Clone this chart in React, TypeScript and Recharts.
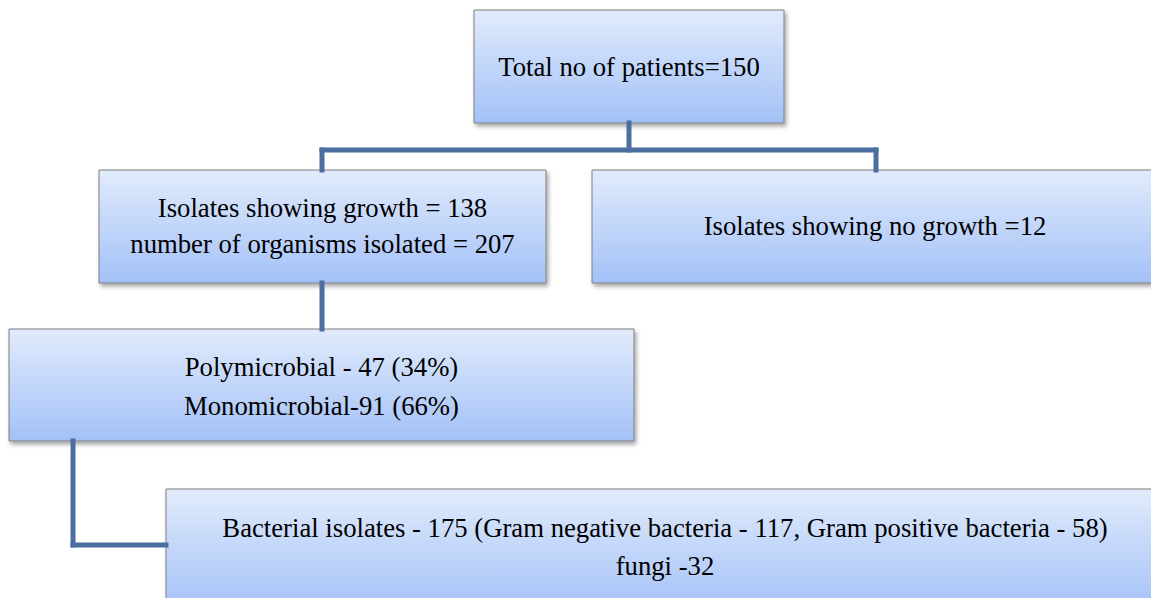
import React from 'react';
import { ComposedChart, XAxis, YAxis, ReferenceArea, ReferenceLine } from 'recharts';

const W = 1151;
const H = 598;

// Flowchart nodes (in a 0..1151 x 0..598 coordinate space)
const boxIds = ['total', 'growth', 'noGrowth', 'microbial', 'isolates'];
const boxX1 = [474, 99, 592, 9, 166];
const boxX2 = [784, 546, 1158, 634, 1164];
const boxY1 = [10, 170, 170, 329, 489];
const boxY2 = [123, 283, 283, 441, 612];
const boxLabels: string[][] = [
  ['Total no of patients=150'],
  ['Isolates showing growth = 138', 'number of organisms isolated = 207'],
  ['Isolates showing no growth =12'],
  ['Polymicrobial - 47 (34%)', 'Monomicrobial-91 (66%)'],
  ['Bacterial isolates - 175 (Gram negative bacteria - 117, Gram positive bacteria - 58)', 'fungi -32'],
];
// text baselines per line
const boxBaselines: number[][] = [[76], [217, 253], [234.5], [376, 415], [536.5, 574.5]];

// Connector segments
const segX1 = [629, 322, 322, 876, 322, 73, 73];
const segY1 = [123, 150, 150, 150, 283, 441, 545];
const segX2 = [629, 876, 322, 876, 322, 73, 166];
const segY2 = [150, 150, 170, 170, 329, 545, 545];

const LINE_COLOR = '#4A6FA0';
const FONT = "'Liberation Serif', 'Times New Roman', Times, serif";

const BoxLabel = (props: any) => {
  const { viewBox, lines, baselines } = props;
  if (!viewBox) return null;
  const cx = viewBox.x + viewBox.width / 2;
  return (
    <text x={cx} y={baselines[0]} textAnchor="middle" fontFamily={FONT} fontSize={26.7} fill="#000">
      {lines.map((l: string, i: number) => (
        <tspan key={i} x={cx} y={baselines[i]}>
          {l}
        </tspan>
      ))}
    </text>
  );
};

export default function App() {
  const data = [{ x: 0, y: 0 }];
  return (
    <div style={{ position: 'absolute', left: 0, top: 0, width: W, height: H, background: '#fff', overflow: 'hidden' }}>
      <ComposedChart width={W} height={H} data={data} margin={{ top: 0, right: 0, bottom: 0, left: 0 }}>
        <defs>
          <linearGradient id="boxGrad" x1="0" y1="0" x2="0" y2="1">
            <stop offset="0%" stopColor="#E1EBFC" />
            <stop offset="100%" stopColor="#A3C1F7" />
          </linearGradient>
          <filter id="shadow" x="-5%" y="-10%" width="115%" height="130%">
            <feDropShadow dx="2" dy="3" stdDeviation="2" floodColor="#000" floodOpacity="0.35" />
          </filter>
        </defs>
        <XAxis type="number" dataKey="x" domain={[0, W]} hide allowDataOverflow />
        <YAxis type="number" dataKey="y" domain={[0, H]} reversed hide allowDataOverflow />
        {segX1.map((_, i) => (
          <ReferenceLine
            key={'seg' + i}
            segment={[
              { x: segX1[i], y: segY1[i] },
              { x: segX2[i], y: segY2[i] },
            ]}
            stroke={LINE_COLOR}
            strokeWidth={5}
            strokeLinecap="square"
            ifOverflow="visible"
          />
        ))}
        {boxIds.map((id, i) => (
          <ReferenceArea
            key={id}
            x1={boxX1[i]}
            x2={boxX2[i]}
            y1={boxY1[i]}
            y2={boxY2[i]}
            fill="url(#boxGrad)"
            fillOpacity={1}
            stroke="#7F7F7F"
            strokeWidth={1}
            ifOverflow="visible"
            style={{ filter: 'url(#shadow)' }}
            label={(p: any) => (
              <BoxLabel viewBox={p.viewBox} lines={boxLabels[i]} baselines={boxBaselines[i]} />
            )}
          />
        ))}
      </ComposedChart>
    </div>
  );
}
